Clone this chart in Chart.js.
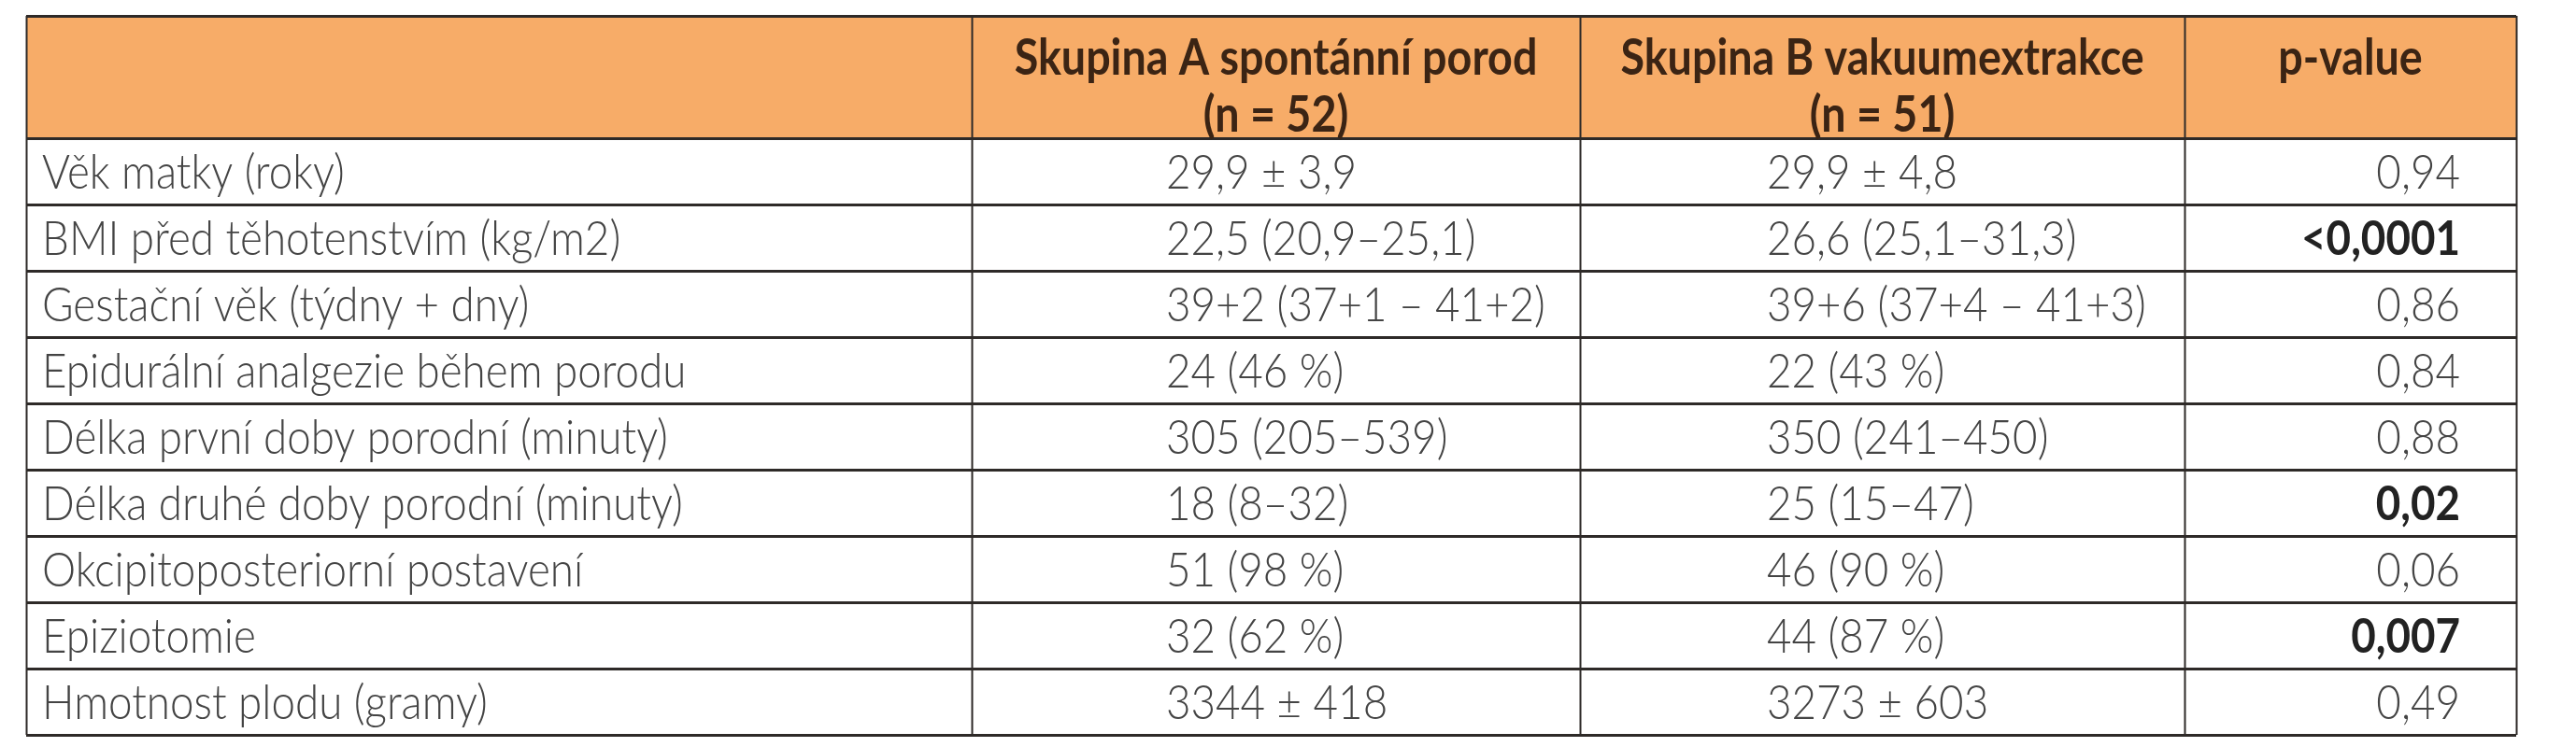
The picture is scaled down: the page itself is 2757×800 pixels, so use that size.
<!DOCTYPE html>
<html><head><meta charset="utf-8">
<script src="https://cdn.jsdelivr.net/npm/chart.js@4/dist/chart.umd.min.js"></script>
<style>html,body{margin:0;padding:0;background:#fff}canvas{display:block}</style>
</head><body>
<canvas id="c" width="2757" height="800"></canvas>
<script>
const headers = [["", ""], ["Skupina A spontánní porod", "(n = 52)"], ["Skupina B vakuumextrakce", "(n = 51)"], ["p-value", ""]];
const rowLabels = ["Věk matky (roky)", "BMI před těhotenstvím (kg/m2)", "Gestační věk (týdny + dny)", "Epidurální analgezie během porodu", "Délka první doby porodní (minuty)", "Délka druhé doby porodní (minuty)", "Okcipitoposteriorní postavení", "Epiziotomie", "Hmotnost plodu (gramy)"];
const groupA = ["29,9 ± 3,9", "22,5 (20,9–25,1)", "39+2 (37+1 – 41+2)", "24 (46 %)", "305 (205–539)", "18 (8–32)", "51 (98 %)", "32 (62 %)", "3344 ± 418"];
const groupB = ["29,9 ± 4,8", "26,6 (25,1–31,3)", "39+6 (37+4 – 41+3)", "22 (43 %)", "350 (241–450)", "25 (15–47)", "46 (90 %)", "44 (87 %)", "3273 ± 603"];
const pValues = ["0,94", "<0,0001", "0,86", "0,84", "0,88", "0,02", "0,06", "0,007", "0,49"];
const pBold = [false, true, false, false, false, true, false, true, false];

const colEdges = [0, 1012, 1663, 2310, 2665];
const headerUnits = 1.85;
const nRows = rowLabels.length;
const SX = 0.88;

function txt(ctx, s, px, py) {
  ctx.save();
  ctx.translate(px, py);
  ctx.scale(SX, 1);
  ctx.fillText(s, 0, 0);
  ctx.restore();
}

const tablePlugin = {
  id: 'table',
  beforeDatasetsDraw(chart) {
    const {ctx, scales: {x, y}} = chart;
    ctx.save();
    ctx.fillStyle = '#F7AC68';
    const y0 = y.getPixelForValue(0), y1 = y.getPixelForValue(headerUnits);
    ctx.fillRect(x.getPixelForValue(0), y0, x.getPixelForValue(colEdges[4]) - x.getPixelForValue(0), y1 - y0);
    ctx.strokeStyle = '#2e2a28';
    ctx.lineWidth = 3;
    ctx.beginPath();
    for (let i = 0; i <= nRows; i++) {
      const py = Math.round(y.getPixelForValue(headerUnits + i)) + 0.5;
      ctx.moveTo(x.getPixelForValue(0), py); ctx.lineTo(x.getPixelForValue(colEdges[4]), py);
    }
    const pt = Math.round(y.getPixelForValue(0)) + 0.5;
    ctx.moveTo(x.getPixelForValue(0), pt); ctx.lineTo(x.getPixelForValue(colEdges[4]), pt);
    ctx.stroke();
    ctx.lineWidth = 2;
    ctx.beginPath();
    colEdges.forEach(v => {
      const px = Math.round(x.getPixelForValue(v)) + 0.5;
      ctx.moveTo(px, y.getPixelForValue(0)); ctx.lineTo(px, y.getPixelForValue(headerUnits + nRows));
    });
    ctx.stroke();

    ctx.fillStyle = '#3b2414';
    ctx.font = 'bold 53px Lato';
    ctx.textAlign = 'center';
    ctx.textBaseline = 'middle';
    headers.forEach((h, i) => {
      const cx = (x.getPixelForValue(colEdges[i]) + x.getPixelForValue(colEdges[i + 1])) / 2;
      txt(ctx, h[0], cx, y.getPixelForValue(0.65));
      if (h[1]) txt(ctx, h[1], cx, y.getPixelForValue(1.5));
    });

    ctx.fillStyle = '#444';
    for (let r = 0; r < nRows; r++) {
      const cy = y.getPixelForValue(headerUnits + r + 0.52);
      ctx.font = '300 52px Lato';
      ctx.textAlign = 'left';
      txt(ctx, rowLabels[r], x.getPixelForValue(colEdges[0]) + 17, cy);
      txt(ctx, groupA[r], x.getPixelForValue(colEdges[1]) + 208, cy);
      txt(ctx, groupB[r], x.getPixelForValue(colEdges[2]) + 200, cy);
      ctx.textAlign = 'right';
      if (pBold[r]) { ctx.font = 'bold 52px Lato'; ctx.fillStyle = '#222'; }
      txt(ctx, pValues[r], x.getPixelForValue(colEdges[3]) + 295, cy);
      ctx.fillStyle = '#444';
    }
    ctx.restore();
  }
};

new Chart(document.getElementById('c'), {
  type: 'scatter',
  data: { datasets: [{ data: rowLabels.map((l, i) => ({x: colEdges[0], y: headerUnits + i + 0.5})), pointRadius: 0 }] },
  options: {
    responsive: false, animation: false, devicePixelRatio: 1,
    layout: { padding: { left: 28, right: 64, top: 17, bottom: 13 } },
    plugins: { legend: { display: false }, tooltip: { enabled: false } },
    scales: {
      x: { type: 'linear', min: colEdges[0], max: colEdges[4], display: false },
      y: { type: 'linear', min: 0, max: headerUnits + nRows, reverse: true, display: false }
    }
  },
  plugins: [tablePlugin]
});
</script>
</body></html>
